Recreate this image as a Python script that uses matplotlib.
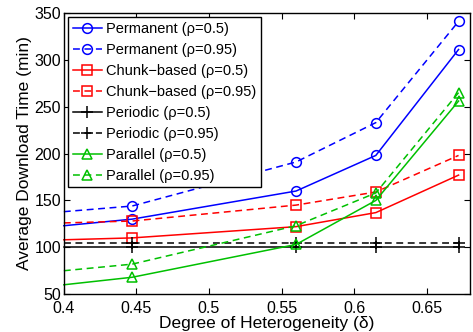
import matplotlib
matplotlib.use('Agg')
import matplotlib.pyplot as plt

plt.rcParams['font.family'] = ['Liberation Sans', 'DejaVu Sans']

# degree of heterogeneity (first value sits on the left edge, no marker)
delta = [0.4, 0.447, 0.56, 0.615, 0.672]

perm_05 = [123, 130, 160, 198, 311]
perm_095 = [138, 144, 191, 233, 341]
chunk_05 = [108, 110, 122, 137, 177]
chunk_095 = [126, 128, 145, 159, 198]
period_05 = [100, 100, 100, 100, 100]
period_095 = [105, 105, 105, 105, 105]
par_05 = [60, 68, 103, 150, 256]
par_095 = [75, 82, 123, 158, 265]

series = [
    (perm_05, 'Permanent (ρ=0.5)', 'b', '-', 'o'),
    (perm_095, 'Permanent (ρ=0.95)', 'b', '--', 'o'),
    (chunk_05, 'Chunk\u2212based (ρ=0.5)', 'r', '-', 's'),
    (chunk_095, 'Chunk\u2212based (ρ=0.95)', 'r', '--', 's'),
    (period_05, 'Periodic (ρ=0.5)', 'k', '-', '+'),
    (period_095, 'Periodic (ρ=0.95)', 'k', '--', '+'),
    (par_05, 'Parallel (ρ=0.5)', '#00c000', '-', '^'),
    (par_095, 'Parallel (ρ=0.95)', '#00c000', '--', '^'),
]

fig = plt.figure(figsize=(4.73, 3.32), dpi=100)
ax = fig.add_axes([0.135, 0.114, 0.859, 0.847])

for vals, lab, col, ls, mk in series:
    ln, = ax.plot(delta, vals, color=col, linestyle=ls, marker=mk, markersize=8 if mk == '+' else 7,
                  markerfacecolor='none', markeredgecolor=col, markeredgewidth=1.1,
                  linewidth=1.1, label=lab, markevery=slice(1, None), clip_on=False)
    if ls == '--':
        ln.set_dashes((4.5, 3))

ax.set_xlim(0.4, 0.68)
ax.set_ylim(50, 350)
ax.set_xticks([0.4, 0.45, 0.5, 0.55, 0.6, 0.65])
ax.set_xticklabels(['0.4', '0.45', '0.5', '0.55', '0.6', '0.65'])
ax.set_yticks(range(50, 351, 50))
ax.tick_params(direction='in', top=True, right=True, labelsize=11.5, length=4, pad=2)
ax.tick_params(axis='x', pad=5)
for s in ax.spines.values():
    s.set_linewidth(1.0)
ax.set_xlabel('Degree of Heterogeneity (δ)', fontsize=12.5, labelpad=0)
ax.set_ylabel('Average Download Time (min)', fontsize=12.5, labelpad=2)

leg = ax.legend(loc='upper left', fontsize=10.5, fancybox=False, framealpha=1,
                edgecolor='k', handlelength=2.0, handletextpad=0.3, labelspacing=0.48,
                borderpad=0.3, borderaxespad=0.3)
leg.get_frame().set_linewidth(1.0)

fig.savefig('out.png', dpi=100)
